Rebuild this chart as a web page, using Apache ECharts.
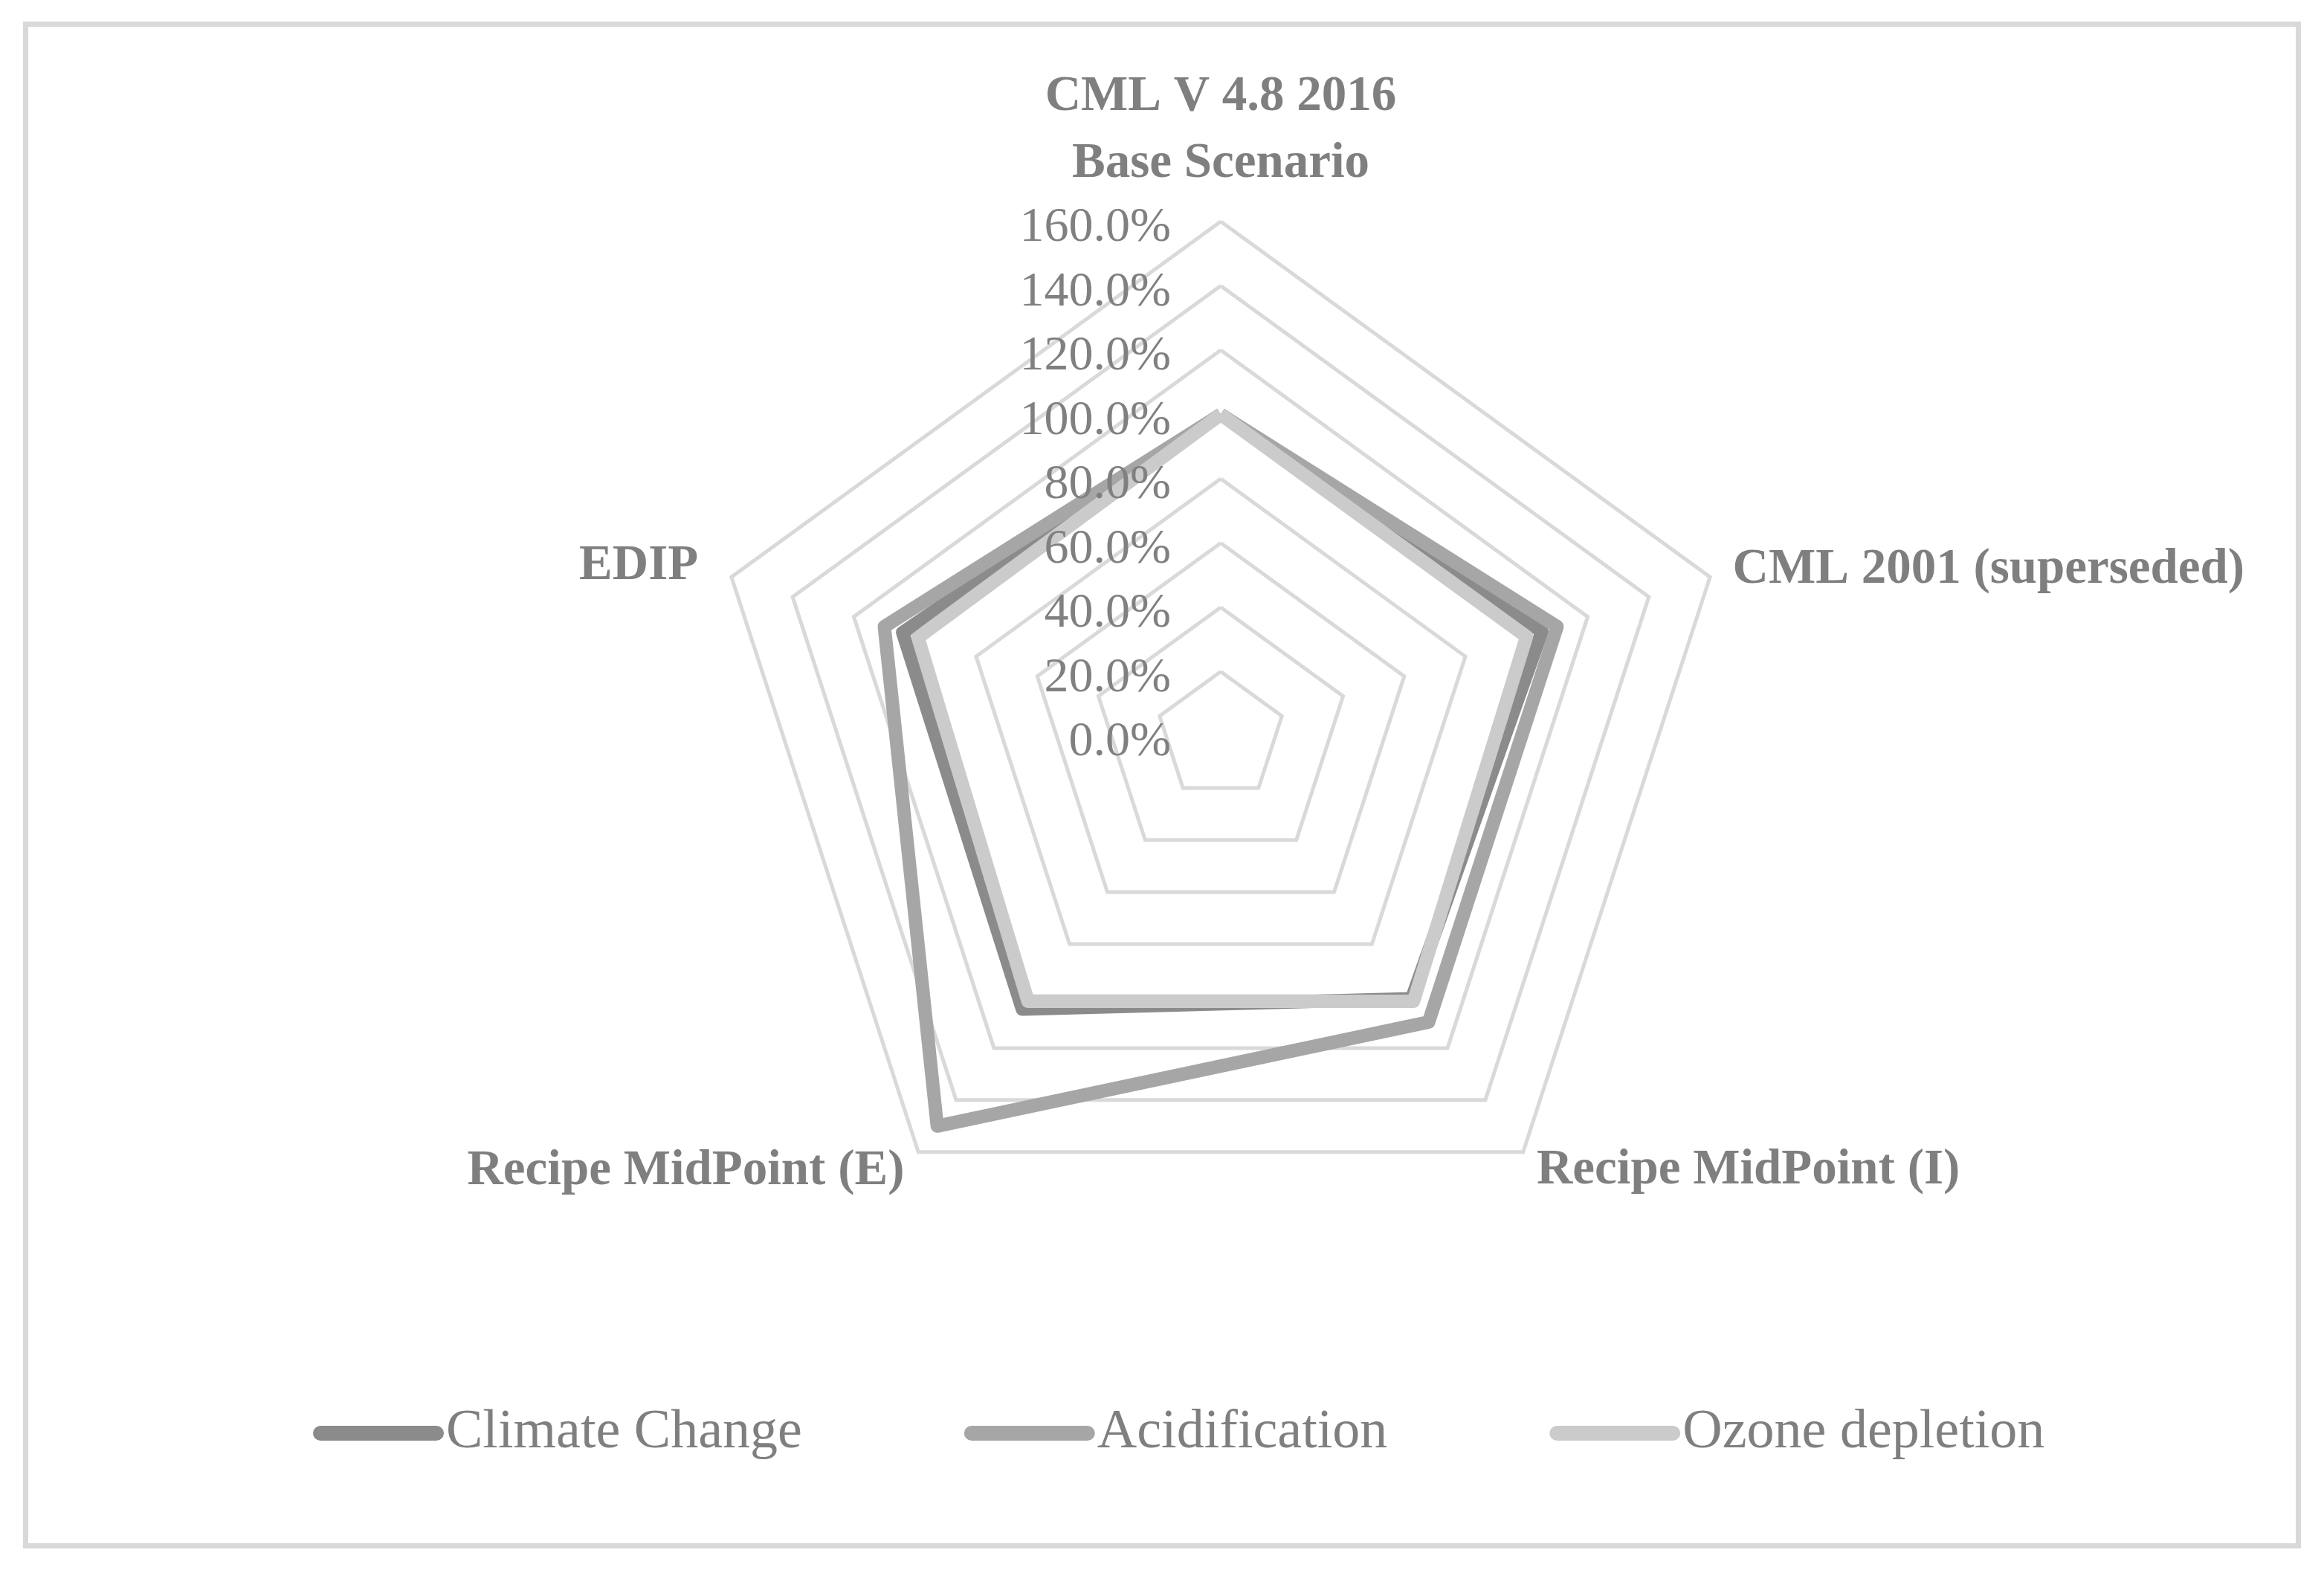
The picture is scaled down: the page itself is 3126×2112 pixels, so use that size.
<!DOCTYPE html>
<html>
<head>
<meta charset="utf-8">
<script src="https://cdn.jsdelivr.net/npm/echarts@6/dist/echarts.min.js"></script>
<style>
html,body{margin:0;padding:0;background:#fff;}
#chart{position:absolute;left:0;top:0;width:3126px;height:2112px;}
#frame{position:absolute;left:31px;top:29px;width:3064px;height:2054px;box-sizing:border-box;border:7px solid #d9d9d9;pointer-events:none;}
</style>
</head>
<body>
<div id="chart"></div>
<div id="frame"></div>
<script>
// Categories in clockwise order starting at top (as in the reference)
const categories = ['CML V 4.8 2016\nBase Scenario', 'CML 2001 (superseded)', 'Recipe MidPoint (I)', 'Recipe MidPoint (E)', 'EDIP'];
const seriesNames = ['Climate Change', 'Acidification', 'Ozone depletion'];
const climateChange = [100, 105, 101, 105, 104];
const acidification = [100, 110, 110, 150, 110];
const ozoneDepletion = [100, 100, 102, 102, 99];
const axisMax = 160;
const nameGaps = [32, 32, 31, 32, 47];

const colors = ['#8b8b8b', '#a6a6a6', '#cbcbcb'];
const FONT = 'Liberation Serif';

// ECharts places indicators counter-clockwise; reorder so they read clockwise.
const order = [0, 4, 3, 2, 1];
const reorder = arr => order.map(i => arr[i]);

const indicator = order.map(i => ({ name: categories[i], max: axisMax, min: 0, nameGap: nameGaps[i] }));
const labelIndicator = order.map((i, k) => {
  const o = { name: '', max: axisMax, min: 0 };
  if (k !== 0) o.axisLabel = { show: false };
  return o;
});

const allSeries = [climateChange, acidification, ozoneDepletion];

const chart = echarts.init(document.getElementById('chart'), null, { renderer: 'canvas' });
chart.setOption({
  backgroundColor: '#ffffff',
  color: colors,
  animation: false,
  legend: {
    data: seriesNames,
    left: 416,
    top: 1886,
    itemWidth: 176,
    itemHeight: 20,
    itemGap: 218,
    icon: 'path://M10,0 H166 A10,10 0 0 1 166,20 H10 A10,10 0 0 1 10,0 Z',
    textStyle: { color: '#7f7f7f', fontSize: 74, fontFamily: FONT, padding: [0, 0, 0, -2] }
  },
  radar: [{
    center: [1642, 990],
    radius: 692,
    startAngle: 90,
    shape: 'polygon',
    splitNumber: 8,
    indicator: indicator,
    axisName: {
      color: '#7f7f7f',
      fontSize: 67,
      fontWeight: 'bold',
      fontFamily: FONT,
      lineHeight: 90
    },
    axisLine: { show: false },
    axisTick: { show: false },
    splitArea: { show: false },
    splitLine: { lineStyle: { color: '#d9d9d9', width: 5 } },
    axisLabel: { show: false }
  }, {
    // tick-label layer drawn above the series lines
    center: [1642, 999],
    radius: 692,
    startAngle: 90,
    shape: 'polygon',
    splitNumber: 8,
    z: 10,
    indicator: labelIndicator,
    axisName: { show: false },
    axisLine: { show: false },
    axisTick: { show: false },
    splitArea: { show: false },
    splitLine: { show: false },
    axisLabel: {
      show: true,
      margin: 67,
      color: '#808080',
      fontSize: 66,
      fontFamily: FONT,
      formatter: v => Number(v).toFixed(1) + '%'
    }
  }],
  series: seriesNames.map((name, s) => ({
    name: name,
    type: 'radar',
    radarIndex: 0,
    symbol: 'none',
    lineStyle: { width: 18, color: colors[s], join: 'round' },
    itemStyle: { color: colors[s] },
    data: [{ name: name, value: reorder(allSeries[s]) }]
  }))
});
</script>
</body>
</html>
